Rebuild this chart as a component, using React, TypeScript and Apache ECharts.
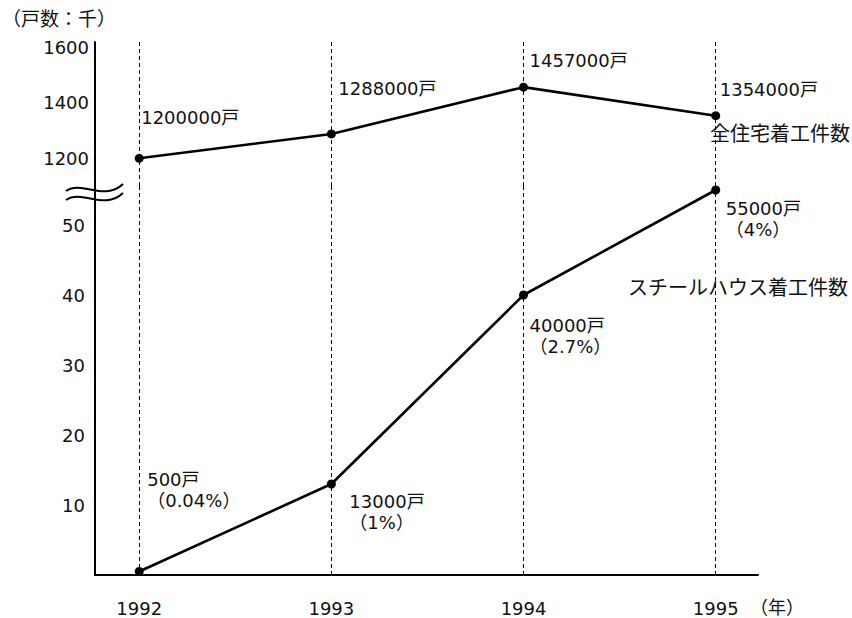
import React, { useEffect, useRef } from "react";
import * as echarts from "echarts";

// ---- data (values in thousand dwellings) ----
const years = [1992, 1993, 1994, 1995];
const totalStarts = [1200, 1288, 1457, 1354];
const steelStarts = [0.5, 13, 40, 55];
const totalLabels = ["1200000戸", "1288000戸", "1457000戸", "1354000戸"];
const steelLabels = ["500戸\n（0.04%）", "13000戸\n（1%）", "40000戸\n（2.7%）", "55000戸\n（4%）"];
const topTickLabels = [1200, 1400, 1600];
const bottomTickLabels = [10, 20, 30, 40, 50];
const yUnitTitle = "（戸数：千）";
const xUnitTitle = "（年）";
const totalName = "全住宅着工件数";
const steelName = "スチールハウス着工件数";

// ---- styles ----
const totalLabelOffsets = [[2, -41], [7, -45], [6, -27], [4, -26]];
const steelLabelOffsets = [[8, -82], [18, 28], [6, 41], [10, 29]];
const NUM_FONT = "'DejaVu Sans', 'Noto Sans CJK TC', sans-serif";
const CJK_FONT = "'Noto Sans CJK JP', sans-serif";
const PAREN_FONT = "'Noto Sans CJK TC', sans-serif";
const INK = "#111";

export default function App() {
  const ref = useRef<HTMLDivElement>(null);
  useEffect(() => {
    if (!ref.current) return;
    const chart = echarts.init(ref.current, null, { renderer: "svg" });
    const xMin = 1991.77;
    const xMax = 1995.22;
    const dashed = {
      silent: true,
      symbol: "none",
      label: { show: false },
      lineStyle: { type: [4, 3], color: "#000", width: 1 },
      emphasis: { disabled: true },
      data: years.map((y) => ({ xAxis: y })),
    };
    const lineCommon = {
      type: "line",
      symbol: "circle",
      symbolSize: 9,
      itemStyle: { color: "#000" },
      lineStyle: { color: "#000", width: 2.6 },
      z: 5,
    };
    chart.setOption({
      animation: false,
      backgroundColor: "#fff",
      grid: [
        { left: 95, right: 94, top: 42, height: 144, outerBoundsMode: "none" },
        { left: 95, right: 94, top: 183, height: 392, outerBoundsMode: "none" },
      ],
      xAxis: [
        { type: "value", gridIndex: 0, min: xMin, max: xMax, show: false },
        {
          type: "value",
          gridIndex: 1,
          min: xMin,
          max: xMax,
          axisLine: { show: true, onZero: false, lineStyle: { color: "#000", width: 2 } },
          axisTick: { show: false },
          splitLine: { show: false },
          axisLabel: {
            customValues: years,
            formatter: (v: number) => String(Math.round(v)),
            margin: 24,
            fontSize: 18,
            color: INK,
            fontFamily: NUM_FONT,
            showMinLabel: true,
            showMaxLabel: true,
          },
        },
      ],
      yAxis: [
        {
          type: "value",
          gridIndex: 0,
          min: 1100,
          max: 1620,
          interval: 100,
          axisLine: { show: true, lineStyle: { color: "#000", width: 2 } },
          axisTick: { show: false },
          splitLine: { show: false },
          axisLabel: {
            formatter: (v: number) => (topTickLabels.includes(v) ? String(v) : ""),
            margin: 6,
            fontSize: 18,
            color: INK,
            fontFamily: NUM_FONT,
          },
        },
        {
          type: "value",
          gridIndex: 1,
          min: 0,
          max: 56,
          interval: 10,
          axisLine: { show: true, lineStyle: { color: "#000", width: 2 } },
          axisTick: { show: false },
          splitLine: { show: false },
          axisLabel: {
            formatter: (v: number) => (bottomTickLabels.includes(v) ? String(v) : ""),
            margin: 10,
            fontSize: 18,
            color: INK,
            fontFamily: NUM_FONT,
            padding: [11, 0, 0, 0],
          },
        },
      ],
      series: [
        {
          ...lineCommon,
          name: totalName,
          xAxisIndex: 0,
          yAxisIndex: 0,
          data: years.map((y, i) => ({
            value: [y, totalStarts[i]],
            label: { offset: totalLabelOffsets[i] },
          })),
          label: {
            show: true,
            position: "inside",
            align: "left",
            verticalAlign: "middle",
            formatter: (p: any) => totalLabels[p.dataIndex],
            fontSize: 18,
            color: INK,
            fontFamily: NUM_FONT,
          },
          markLine: dashed,
        },
        {
          ...lineCommon,
          name: steelName,
          xAxisIndex: 1,
          yAxisIndex: 1,
          data: years.map((y, i) => ({
            value: [y, steelStarts[i]],
            label: { offset: steelLabelOffsets[i] },
          })),
          label: {
            show: true,
            position: "inside",
            align: "left",
            verticalAlign: "middle",
            formatter: (p: any) => steelLabels[p.dataIndex],
            fontSize: 18,
            lineHeight: 21,
            color: INK,
            fontFamily: NUM_FONT,
          },
          markLine: dashed,
        },
      ],
      graphic: [
        {
          type: "text",
          left: 2,
          top: 8,
          style: { text: yUnitTitle, fontSize: 19, fill: INK, fontFamily: PAREN_FONT },
        },
        {
          type: "text",
          x: 750,
          y: 606,
          style: {
            text: xUnitTitle,
            fontSize: 18,
            lineHeight: 18,
            fill: INK,
            fontFamily: PAREN_FONT,
            verticalAlign: "middle",
          },
        },
        {
          type: "text",
          x: 710,
          y: 132,
          style: { text: totalName, fontSize: 20, fill: INK, fontFamily: CJK_FONT, verticalAlign: "middle" },
        },
        {
          type: "text",
          x: 628,
          y: 286,
          style: { text: steelName, fontSize: 20, fill: INK, fontFamily: CJK_FONT, verticalAlign: "middle" },
        },
        {
          type: "bezierCurve",
          shape: { x1: 66, y1: 191, cpx1: 82, cpy1: 180, cpx2: 104, cpy2: 202, x2: 123, y2: 184 },
          style: { stroke: "#000", lineWidth: 2, fill: null },
          z: 10,
        },
        {
          type: "bezierCurve",
          shape: { x1: 66, y1: 200, cpx1: 82, cpy1: 189, cpx2: 104, cpy2: 211, x2: 123, y2: 193 },
          style: { stroke: "#000", lineWidth: 2, fill: null },
          z: 10,
        },
      ],
    });
    return () => chart.dispose();
  }, []);
  return <div ref={ref} style={{ width: 852, height: 618, position: "absolute", left: 0, top: 0 }} />;
}
